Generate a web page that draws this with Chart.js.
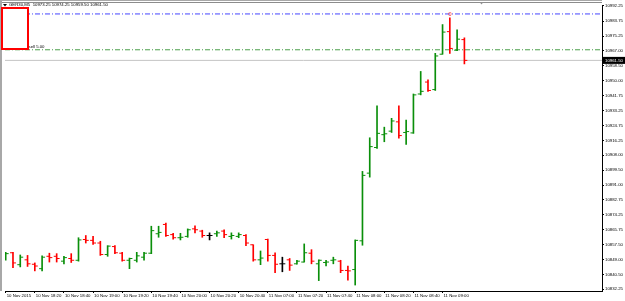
<!DOCTYPE html>
<html><head><meta charset="utf-8">
<script src="https://cdn.jsdelivr.net/npm/chart.js@4.4.0/dist/chart.umd.min.js"></script>
<style>html,body{margin:0;padding:0;background:#fff;overflow:hidden}#wrap{width:625px;height:301px;position:relative}</style>
</head><body><div id="wrap"><canvas id="c" width="625" height="301"></canvas></div>
<script>
// ---------- data ----------
const symbolTitle = 'GER30,M5  10973.25 10974.25 10959.50 10961.50';
const openP  = [10849.5,10852.75,10846,10848.75,10846.25,10843.75,10850.75,10850.75,10848,10849.5,
  10848.5,10860.25,10859.75,10858.25,10851.75,10856.25,10852.5,10848.5,10848.5,10850.25,
  10852.5,10863.5,10868.75,10863,10861.25,10862,10866.25,10865,10862.5,10863.5,
  10865,10862,10862,10862.5,10857.25,10848.75,10860.25,10851.25,10846.5,10848.75,
  10846.5,10847.5,10852.5,10846.5,10847.25,10848.5,10848,10842.75,10843.25,10859.5,
  10897.75,10912.25,10919.5,10921.5,10926.75,10920.75,10920.5,10942.5,10949.25,10945,
  10965,10977.75,10967.25,10973.25];
const highP  = [10853,10853,10851.5,10851.25,10847,10851,10852.5,10852.25,10850.75,10852.25,
  10861.25,10862.5,10862,10859.25,10856.75,10856.75,10853,10849.75,10853,10853,
  10867.75,10867.75,10869.5,10863.75,10863.75,10866.25,10868,10865.5,10864,10865,
  10865.75,10864,10864,10863,10857.25,10853.75,10860.5,10852.75,10850.25,10849.5,
  10848.5,10857.75,10854.5,10848.75,10848.5,10850.25,10848.5,10845.25,10860,10898.75,
  10917.75,10935.75,10923.75,10928.75,10935.75,10927.75,10942.5,10955.25,10950.5,10965.5,
  10981.75,10985.5,10978.75,10974.25];
const lowP   = [10848.5,10844.25,10844.75,10845,10842.5,10842.5,10847.5,10847.5,10846.5,10847.25,
  10848,10858.25,10857.5,10851.25,10850.75,10852.25,10848,10843.75,10847.5,10848.5,
  10852.25,10861.5,10862,10860.5,10860,10861.5,10864,10861.5,10860,10862,
  10861.25,10860.5,10861.25,10856.75,10848,10846,10848,10841.5,10842,10842.75,
  10846.25,10847.5,10846.5,10837,10845.25,10846.5,10841.5,10837.25,10834.5,10857,
  10895.5,10911.75,10915.5,10920.75,10917.5,10914,10920.25,10942,10944,10944.5,
  10965,10965.5,10967,10959.5];
const closeP = [10852.25,10847,10850.25,10846.5,10845.25,10850.25,10850,10849.5,10850,10848.5,
  10860,10859.75,10858.25,10851.75,10856.5,10852.75,10848.5,10849.5,10851,10852.5,
  10865.25,10864.25,10862.5,10861.25,10861.5,10865.75,10865.75,10862.5,10862.5,10864,
  10863,10862.5,10863,10858.25,10848.75,10849.75,10851.25,10846.25,10846.5,10845.75,
  10848,10852.75,10848,10848.5,10847.5,10848.75,10842.75,10842.5,10859.75,10896.5,
  10912.75,10920.25,10920,10927.25,10919,10921.25,10942,10944,10944.5,10964,
  10977.5,10968.25,10973.5,10961.5];
const xTickIndex  = [0,4,8,12,16,20,24,28,32,36,40,44,48,52,56,60];
const xTickLabels = ['10 Nov 2015','10 Nov 18:20','10 Nov 18:40','10 Nov 19:00','10 Nov 19:20','10 Nov 19:40',
  '10 Nov 20:00','10 Nov 20:20','10 Nov 20:40','11 Nov 07:00','11 Nov 07:20','11 Nov 07:40',
  '11 Nov 08:00','11 Nov 08:20','11 Nov 08:40','11 Nov 09:00'];
const yTickValues = [10992.25,10983.75,10975.25,10967.00,10958.50,10950.00,10941.75,10933.25,10924.75,10916.25,
  10908.00,10899.50,10891.00,10882.75,10874.25,10865.75,10857.50,10849.00,10840.50,10832.25];
const currentPrice = 10961.50;
const blueLevel  = 10987.75;
const greenLevel = 10967.50;
const greenLevelText = 'sell 5.00';

// ---------- config ----------
const X_MIN = -0.096, X_MAX = 81.9;
const Y_MIN = 10831.13, Y_MAX = 10992.81;
const FONT = '"Liberation Sans", Arial, sans-serif';
const UP = '#0a8f0a', DOWN = '#ff0000', FLAT = '#000000';
const colors = openP.map((o,i)=> closeP[i]>o ? UP : (closeP[i]<o ? DOWN : FLAT));
const idx = openP.map((_,i)=>i);

const hline = (v, color, dash, order) => ({
  type:'line', data:[{x:X_MIN,y:v},{x:X_MAX,y:v}], borderColor:color, borderWidth:1,
  borderDash:dash, pointRadius:0, order:order, fill:false
});

const overlay = {
  id:'overlay',
  beforeDraw(chart){ const c=chart.ctx; c.save(); c.fillStyle='#fff'; c.fillRect(0,0,chart.width,chart.height); c.restore(); },
  afterDraw(chart){
    const c = chart.ctx, ya = chart.scales.y, xa = chart.scales.x, ca = chart.chartArea;
    c.save();
    // window frame
    c.fillStyle='#a8a8a8'; c.fillRect(0,0,ca.right,1);
    c.fillStyle='#8c8c8c'; c.fillRect(0,2,ca.right,1);
    c.fillStyle='#a8a8a8'; c.fillRect(0,0,2,ca.bottom);
    // title
    c.fillStyle='#000';
    c.beginPath(); c.moveTo(3,4); c.lineTo(7,4); c.lineTo(5,6.5); c.closePath(); c.fill();
    c.font = '4.3px ' + FONT; c.textBaseline='middle'; c.textAlign='left';
    c.fillText(symbolTitle, 9, 5.2);
    // level label
    const gy = ya.getPixelForValue(greenLevel);
    c.fillText(greenLevelText, 28.5, gy - 3);
    // red box object
    c.fillStyle='#fff'; c.fillRect(1,7,28,43);
    c.strokeStyle='#ff0000'; c.lineWidth=2; c.strokeRect(2,8,26,41);
    // current price tag
    const py = ya.getPixelForValue(currentPrice);
    c.fillStyle='#000'; c.fillRect(ca.right+1, py-3.5, 625-ca.right-1, 7);
    c.fillStyle='#fff'; c.font='4.3px ' + FONT; c.textBaseline='middle';
    c.fillText(currentPrice.toFixed(2), ca.right+3, py);
    // small red mark over highest bar
    const hi = highP.indexOf(Math.max(...highP));
    c.fillStyle='#ff3030'; c.font='6px ' + FONT; c.textAlign='center';
    c.fillText('0', xa.getPixelForValue(hi), ya.getPixelForValue(highP[hi]) - 4);
    // shift marker
    c.fillStyle='#909090';
    c.beginPath(); c.moveTo(479.5,2); c.lineTo(483.5,2); c.lineTo(481.5,4.5); c.closePath(); c.fill();
    c.restore();
  }
};

new Chart(document.getElementById('c'), {
  type:'bar',
  data:{ datasets:[
    { type:'bar', data: idx.map(i=>({x:i, y:[lowP[i], highP[i]]})), backgroundColor:colors, borderWidth:0,
      barThickness:1, grouped:false, order:2 },
    { type:'scatter', data: idx.map(i=>({x:i-0.2, y:openP[i]})), pointStyle:'line', pointRadius:1.5,
      pointBorderWidth:1, pointBorderColor:colors, borderColor:colors, order:1 },
    { type:'scatter', data: idx.map(i=>({x:i+0.2, y:closeP[i]})), pointStyle:'line', pointRadius:1.5,
      pointBorderWidth:1, pointBorderColor:colors, borderColor:colors, order:1 },
    hline(blueLevel, '#4646ff', [5,2,1,2], 10),
    hline(greenLevel, '#4a9e4a', [5,2,1,2], 10),
    hline(currentPrice, '#c4c4c4', [], 11)
  ]},
  options:{
    responsive:false, animation:false, events:[], devicePixelRatio:1,
    layout:{ padding:{left:2, top:2, right:0, bottom:0} },
    plugins:{ legend:{display:false}, tooltip:{enabled:false} },
    scales:{
      x:{ type:'linear', min:X_MIN, max:X_MAX, offset:false, position:'bottom',
        afterBuildTicks: s => { s.ticks = xTickIndex.map(v=>({value:v})); },
        afterFit: s => { s.height = 10; },
        ticks:{ autoSkip:false, maxRotation:0, minRotation:0, align:'start', padding:0, labelOffset:1,
          color:'#000', font:{size:4.3, family:FONT},
          callback:(v)=>{ const k = xTickIndex.indexOf(v); return k>=0 ? xTickLabels[k] : ''; } },
        grid:{ display:true, drawOnChartArea:false, drawTicks:true, tickLength:2, color:'#000', offset:false },
        border:{ display:true, color:'#000', width:1 }
      },
      y:{ type:'linear', position:'right', min:Y_MIN, max:Y_MAX,
        afterBuildTicks: s => { s.ticks = yTickValues.map(v=>({value:v})); },
        afterFit: s => { s.width = 23; },
        ticks:{ autoSkip:false, padding:1, color:'#000', font:{size:4.3, family:FONT},
          callback:(v)=> Number(v).toFixed(2) },
        grid:{ display:true, drawOnChartArea:false, drawTicks:true, tickLength:2, color:'#000' },
        border:{ display:true, color:'#000', width:1 }
      }
    }
  },
  plugins:[overlay]
});
</script></body></html>
